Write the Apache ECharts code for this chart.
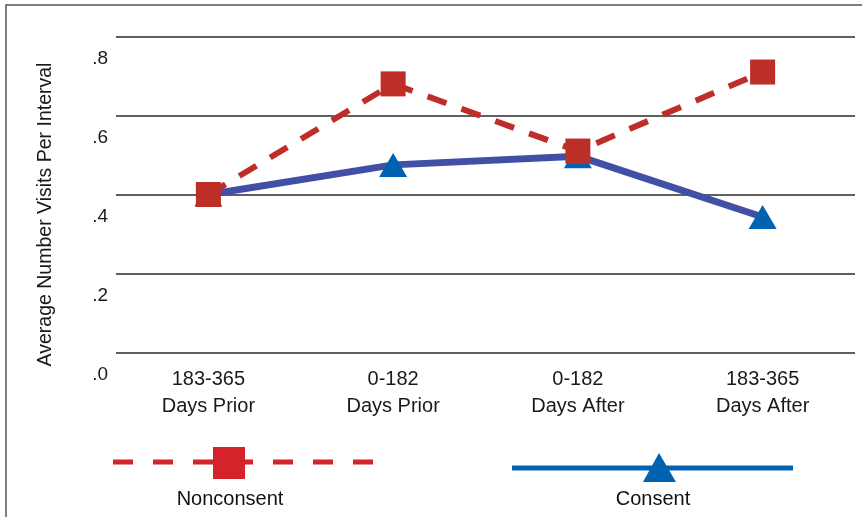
<!DOCTYPE html>
<html>
<head>
<meta charset="utf-8">
<script src="https://cdn.jsdelivr.net/npm/echarts@6/dist/echarts.min.js"></script>
<style>
html,body{margin:0;padding:0;background:#fff;}
#chart{width:862px;height:517px;}
</style>
</head>
<body>
<div id="chart"></div>
<script>
var categories = ['183-365\nDays Prior', '0-182\nDays Prior', '0-182\nDays After', '183-365\nDays After'];
var nonconsent = [0.40, 0.68, 0.51, 0.71];
var consent = [0.40, 0.475, 0.497, 0.343];
var seriesNames = ['Nonconsent', 'Consent'];
var yTitle = 'Average Number Visits Per Interval';

var FONT = '"Liberation Sans Narrow", "Liberation Sans", Arial, sans-serif';
var chart = echarts.init(document.getElementById('chart'), null, {renderer: 'canvas'});

var option = {
  backgroundColor: '#ffffff',
  animation: false,
  grid: {left: 116, right: 7, top: 36.5, bottom: 164.5, containLabel: false},
  xAxis: {
    type: 'category',
    data: categories,
    boundaryGap: true,
    axisLine: {show: false},
    axisTick: {show: false},
    axisLabel: {
      color: '#1a1a1a', fontFamily: FONT, fontSize: 20, lineHeight: 27, margin: 13
    }
  },
  yAxis: {
    type: 'value',
    min: 0, max: 0.8, interval: 0.2,
    name: yTitle,
    nameLocation: 'middle',
    nameGap: 60,
    nameRotate: 90,
    nameTextStyle: {color: '#1a1a1a', fontFamily: FONT, fontSize: 19.5, padding: [0, 40, 0, 0]},
    axisLine: {show: false},
    axisTick: {show: false},
    splitLine: {lineStyle: {color: '#2b2b2b', width: 1.6}},
    axisLabel: {
      color: '#1a1a1a', fontFamily: FONT, fontSize: 19, margin: 8,
      verticalAlign: 'top', lineHeight: 44,
      formatter: function (v) { return '.' + Math.round(v * 10); }
    }
  },
  series: [
    {
      name: seriesNames[1],
      type: 'line',
      data: consent,
      z: 2,
      symbol: 'triangle',
      symbolSize: [28, 24],
      lineStyle: {color: '#4150a6', width: 7},
      itemStyle: {color: '#0062b0'}
    },
    {
      name: seriesNames[0],
      type: 'line',
      data: nonconsent,
      z: 3,
      symbol: 'rect',
      symbolSize: 25,
      lineStyle: {color: '#be2d27', width: 6, type: [20, 16]},
      itemStyle: {color: '#bc2e26'}
    }
  ],
  graphic: [
    {type: 'rect', shape: {x: 6, y: 5, width: 900, height: 600}, style: {fill: 'none', stroke: '#555', lineWidth: 1.5}, z: 0, silent: true},
    {type: 'line', shape: {x1: 113, y1: 462, x2: 375, y2: 462}, style: {stroke: '#d4232b', lineWidth: 5, lineDash: [20, 20]}, z: 10},
    {type: 'rect', shape: {x: 213, y: 447, width: 32, height: 32}, style: {fill: '#d4232b'}, z: 11},
    {type: 'text', x: 230, y: 499, style: {text: seriesNames[0], fill: '#111', font: '20px ' + FONT, textAlign: 'center', textVerticalAlign: 'middle'}, z: 11},
    {type: 'line', shape: {x1: 512, y1: 468, x2: 793, y2: 468}, style: {stroke: '#0062b0', lineWidth: 5}, z: 10},
    {type: 'polygon', shape: {points: [[659, 453], [676, 482], [643, 482]]}, style: {fill: '#0062b0'}, z: 11},
    {type: 'text', x: 653, y: 499, style: {text: seriesNames[1], fill: '#111', font: '20px ' + FONT, textAlign: 'center', textVerticalAlign: 'middle'}, z: 11}
  ]
};
chart.setOption(option);
</script>
</body>
</html>
